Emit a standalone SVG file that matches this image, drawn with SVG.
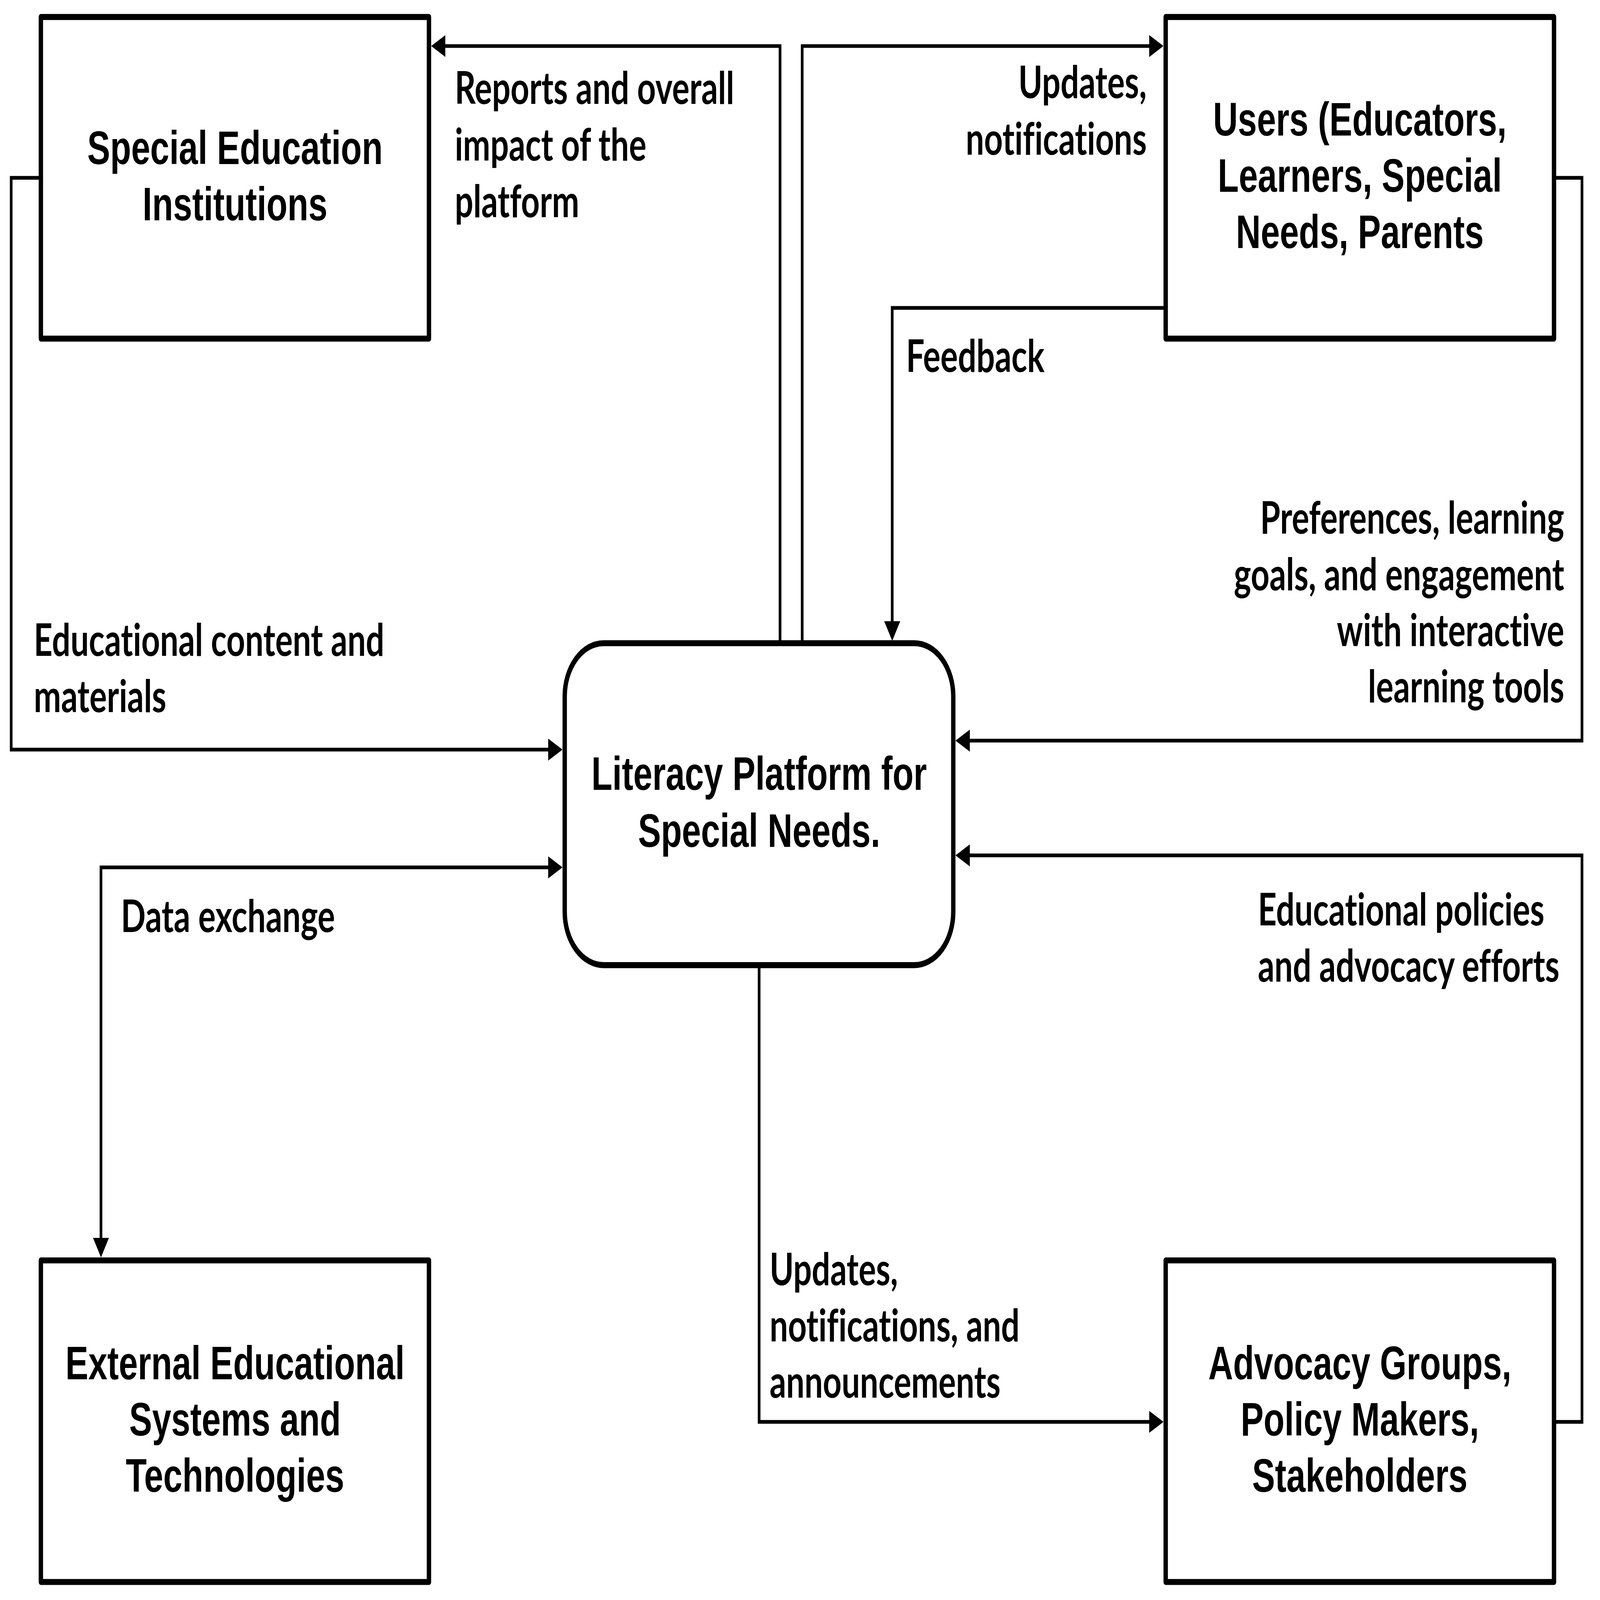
<svg xmlns="http://www.w3.org/2000/svg" width="6576" height="4796" viewBox="0 0 6576 4796" preserveAspectRatio="none">
<style>
svg{width:100vw;height:100vh}
.box{fill:#fff;stroke:#000;stroke-width:18;stroke-linejoin:round}
.conn{fill:none;stroke:#000;stroke-width:11;stroke-linejoin:miter}
.nt{font-family:"Liberation Sans",Arial,sans-serif;font-weight:bold;font-size:141px;text-anchor:middle;fill:#000}
.lb{font-family:Lato,"Noto Sans",sans-serif;font-weight:bold;font-size:134px;fill:#000;font-variant-ligatures:none}
.r{text-anchor:end}
</style>
<defs>
<marker id="ah" markerUnits="userSpaceOnUse" markerWidth="59" markerHeight="66" refX="39" refY="33" orient="auto-start-reverse" viewBox="0 0 59 66">
<path d="M0,0 L59,33 L0,66 z" fill="#000"/>
</marker>
</defs>
<rect width="6576" height="4796" fill="#fff"/>
<g id="connectors">
<path class="conn" d="M3206,1928 V138 H1792" marker-end="url(#ah)"/>
<path class="conn" d="M3297,1928 V138 H4762" marker-end="url(#ah)"/>
<path class="conn" d="M4791,923 H3667 V1901" marker-end="url(#ah)"/>
<path class="conn" d="M6387,533 H6502 V2220 H3947" marker-end="url(#ah)"/>
<path class="conn" d="M6387,4262 H6502 V2564 H3947" marker-end="url(#ah)"/>
<path class="conn" d="M3120,2893 V4262 H4762" marker-end="url(#ah)"/>
<path class="conn" d="M168,533 H46 V2247 H2292" marker-end="url(#ah)"/>
<path class="conn" d="M415,3749 V2600 H2292" marker-start="url(#ah)" marker-end="url(#ah)"/>
<text class="lb" x="1869" y="311">Reports and overall</text>
<text class="lb" x="1869" y="481">impact of the</text>
<text class="lb" x="1869" y="651">platform</text>
<text class="lb r" x="4713" y="294">Updates,</text>
<text class="lb r" x="4713" y="464">notifications</text>
<text class="lb" x="3724" y="1115">Feedback</text>
<text class="lb r" x="6429" y="1599">Preferences, learning</text>
<text class="lb r" x="6429" y="1769">goals, and engagement</text>
<text class="lb r" x="6429" y="1937">with interactive</text>
<text class="lb r" x="6429" y="2105">learning tools</text>
<text class="lb" x="139" y="1966">Educational content and</text>
<text class="lb" x="139" y="2134">materials</text>
<text class="lb" x="497" y="2794">Data exchange</text>
<text class="lb" x="5170" y="2774">Educational policies</text>
<text class="lb" x="5170" y="2942">and advocacy efforts</text>
<text class="lb" x="3163" y="3852">Updates,</text>
<text class="lb" x="3163" y="4021">notifications, and</text>
<text class="lb" x="3163" y="4190">announcements</text>
</g>
<g id="node-sei">
<rect class="box" x="168" y="51" width="1595" height="964"/>
<text class="nt" x="966" y="492">Special Education</text>
<text class="nt" x="966" y="660">Institutions</text>
</g>
<g id="node-users">
<rect class="box" x="4791" y="51" width="1596" height="964"/>
<text class="nt" x="5589" y="406">Users (Educators,</text>
<text class="nt" x="5589" y="575">Learners, Special</text>
<text class="nt" x="5589" y="744">Needs, Parents</text>
</g>
<g id="node-platform">
<rect class="box" x="2321" y="1928" width="1597" height="965" rx="160" ry="160"/>
<text class="nt" x="3120" y="2368">Literacy Platform for</text>
<text class="nt" x="3120" y="2538">Special Needs.</text>
</g>
<g id="node-external">
<rect class="box" x="168" y="3778" width="1595" height="964"/>
<text class="nt" x="966" y="4134">External Educational</text>
<text class="nt" x="966" y="4303">Systems and</text>
<text class="nt" x="966" y="4472">Technologies</text>
</g>
<g id="node-advocacy">
<rect class="box" x="4791" y="3778" width="1596" height="964"/>
<text class="nt" x="5589" y="4134">Advocacy Groups,</text>
<text class="nt" x="5589" y="4303">Policy Makers,</text>
<text class="nt" x="5589" y="4472">Stakeholders</text>
</g>
</svg>
